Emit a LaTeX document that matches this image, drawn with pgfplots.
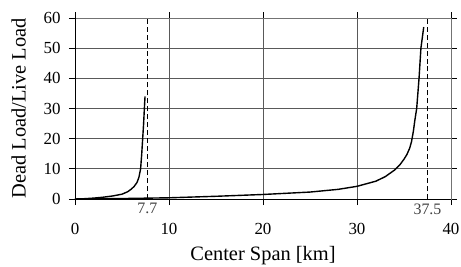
\documentclass[border=0pt]{standalone}
\usepackage{pgfplots}
\pgfplotsset{compat=1.18}
\usepackage{fontspec}
\setmainfont{Liberation Serif}
\begin{document}
\begin{tikzpicture}[x=1bp,y=1bp]
\begin{axis}[
  at={(0,0)}, anchor=south west,
  scale only axis, width=376bp, height=181bp,
  xmin=0, xmax=40, ymin=0, ymax=60,
  xtick={0,10,20,30,40}, ytick={0,10,...,60},
  grid=major, major grid style={black!65, line width=0.7pt},
  axis line style={black!55, line width=0.8pt},
  tick style={black, line width=0.7pt},
  tick align=outside, major tick length=6bp,
  xticklabel style={font=\fontsize{17}{20}\selectfont, yshift=-15bp},
  yticklabel style={font=\fontsize{17}{20}\selectfont, xshift=-5bp},
  /pgf/number format/assume math mode=true,
  xlabel={Center Span [km]}, ylabel={Dead Load/Live Load},
  xlabel style={font=\fontsize{20.5}{24}\selectfont, yshift=1bp},
  ylabel style={font=\fontsize{20.5}{24}\selectfont, yshift=11bp},
  extra x ticks={7.7,37.5},
  extra x tick labels={7.7,37.5},
  extra x tick style={grid=none, major tick length=0pt,
    xticklabel style={yshift=14bp, text=black!75, font=\fontsize{16}{18}\selectfont}},
  clip=false,
]
\draw[black, line width=0.9pt] (axis cs:0,0) -- (axis cs:0,60);
\draw[black, line width=0.9pt] (axis cs:0,0) -- (axis cs:40,0);
\addplot[black, line width=0.8pt, dash pattern=on 5pt off 3pt] coordinates {(7.7,0) (7.7,60)};
\addplot[black, line width=0.8pt, dash pattern=on 5pt off 3pt] coordinates {(37.5,0) (37.5,60)};
\addplot[black, line width=1.4pt] coordinates {
(0,0) (1,0.1) (2,0.3) (3,0.6) (4,1.0) (5,1.6) (5.6,2.4) (6.0,3.3) (6.3,4.2)
(6.6,5.5) (6.8,7.2) (6.98,10) (7.1,15) (7.2,20) (7.3,25) (7.38,30) (7.45,34)};
\addplot[black, line width=1.4pt] coordinates {
(0,0) (5,0.15) (10,0.4) (15,0.9) (20,1.5) (25,2.3) (28,3.2) (30,4.2) (32,5.9)
(33,7.4) (34,9.6) (34.6,11.5) (35.0,13.2) (35.3,14.7) (35.6,16.8) (35.8,19)
(36.0,22.5) (36.15,26) (36.35,30) (36.6,40) (36.8,50) (37.1,57)};
\end{axis}
\pgfresetboundingbox
\path (-75bp,-68bp) rectangle (386bp,199bp);
\end{tikzpicture}
\end{document}
